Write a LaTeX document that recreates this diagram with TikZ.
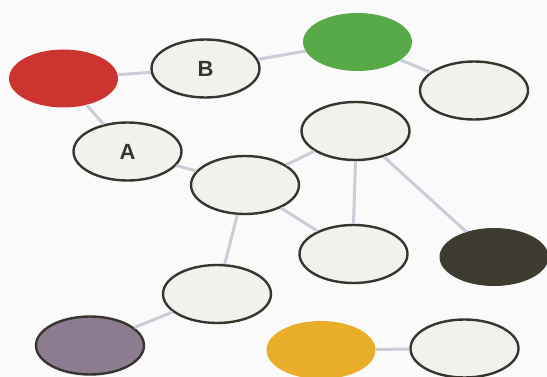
\documentclass[tikz,border=0pt]{standalone}
\usepackage{fontspec}
\setsansfont{Liberation Sans}
\usepackage{xcolor}
\usetikzlibrary{shapes.geometric}
\definecolor{PaperWhite}{RGB}{250,250,250}
\definecolor{BubbleFill}{RGB}{243,241,237}
\definecolor{BubbleLine}{RGB}{55,53,45}
\definecolor{LinkGray}{RGB}{202,204,216}
\definecolor{SoftRed}{RGB}{204,52,48}
\definecolor{SoftGreen}{RGB}{88,170,72}
\definecolor{DarkOlive}{RGB}{62,60,48}
\definecolor{SoftYellow}{RGB}{232,174,42}
\definecolor{SoftPurple}{RGB}{140,124,144}

\begin{document}
\begin{tikzpicture}[x=1pt, y=-1pt,
  bubble/.style={ellipse, draw=BubbleLine, line width=2.4pt, fill=BubbleFill, minimum width=108pt, minimum height=58pt, inner sep=0pt, font=\sffamily\bfseries\fontsize{22}{22}\selectfont, text=BubbleLine},
  blob/.style={ellipse, fill=#1, minimum width=109pt, minimum height=58pt, inner sep=0pt},
  link/.style={draw=LinkGray, line width=3pt}]
\fill[PaperWhite] (0,0) rectangle (547,377);
\useasboundingbox (0,0) rectangle (547,377);

\node[blob=SoftRed] (nRed) at (63.5,78.5) {};
\node[bubble] (nB) at (205.5,68.5) {B};
\node[blob=SoftGreen] (nGreen) at (357.5,42) {};
\node[bubble] (nTopRight) at (474,90.5) {};
\node[bubble] (nA) at (127.5,151.5) {A};
\node[bubble] (nMid) at (355.5,131) {};
\node[bubble] (nCenter) at (245,185) {};
\node[bubble] (nLow) at (353.5,254) {};
\node[blob=DarkOlive] (nDark) at (494,257) {};
\node[bubble] (nLeft) at (217,294) {};
\node[bubble, fill=SoftPurple] (nPurple) at (90,345.5) {};
\node[blob=SoftYellow] (nYellow) at (321,350) {};
\node[bubble] (nBottomRight) at (464.5,348.5) {};

\draw[link] (nRed) -- (nB);
\draw[link] (nRed) -- (nA);
\draw[link] (nB) -- (nGreen);
\draw[link] (nGreen) -- (nTopRight);
\draw[link] (nA) -- (nCenter);
\draw[link] (nCenter) -- (nMid);
\draw[link] (nCenter) -- (nLow);
\draw[link] (nCenter) -- (nLeft);
\draw[link] (nMid.south) -- (nLow.north);
\draw[link] (nMid) -- (nDark);
\draw[link] (nLeft) -- (nPurple);
\draw[link] (nYellow) -- (nBottomRight);
\end{tikzpicture}
\end{document}
